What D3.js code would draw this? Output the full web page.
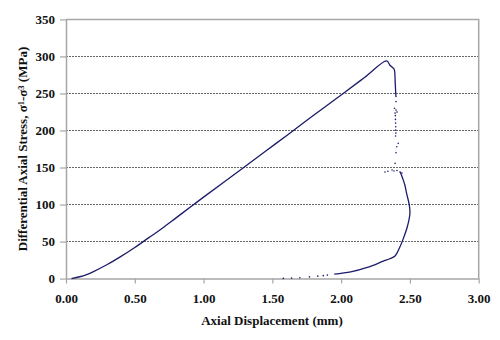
<!DOCTYPE html>
<html>
<head>
<meta charset="utf-8">
<script src="https://cdn.jsdelivr.net/npm/d3@7/dist/d3.min.js"></script>
<style>
  html, body { margin: 0; padding: 0; background: #fff; }
  svg { display: block; }
  text { font-family: "Liberation Serif", "Times New Roman", serif; font-weight: bold; fill: #111; }
</style>
</head>
<body>
<svg id="chart" width="500" height="340"></svg>
<script>
// Axis ticks
const xTicks = [0, 0.5, 1.0, 1.5, 2.0, 2.5, 3.0];
const yTicks = [0, 50, 100, 150, 200, 250, 300, 350];

// Continuous stress–displacement trace: loading up to the peak and the first drop
const loadDisp   = [0.04, 0.10, 0.15, 0.20, 0.30, 0.40, 0.50, 0.60, 0.70, 0.80, 0.914, 1.00, 1.277, 1.45, 1.61, 1.80, 2.00, 2.17, 2.331, 2.355, 2.375, 2.385, 2.39, 2.393, 2.397, 2.399];
const loadStress = [0,    2.5,  5.5,  9.5,  19,   30,   42,   55,   68,   82,   98,    110,  148,   172,  194,  220.5, 248, 271.5, 294,  288,   285,   283,   278,  265,   250,   245];

// Post-failure trace after the stress drop, curving back during unloading
const postDisp   = [2.43, 2.452, 2.465, 2.476, 2.496, 2.50, 2.481, 2.452, 2.423, 2.392, 2.35, 2.306, 2.19, 2.07, 1.95];
const postStress = [144,  133,   125,   115,   99,    88,   70,    54,    41,    30.5,  26.5, 23.5,  15,   9,    6];

// Sparse readings between the two traces
const scatterDisp   = [2.399, 2.388, 2.399, 2.406, 2.392, 2.394, 2.395, 2.396, 2.397, 2.396, 2.398, 2.396, 2.415, 2.404, 2.399, 2.392, 2.319, 2.34, 2.37, 2.384, 2.406, 2.428, 2.442];
const scatterStress = [239,   230,   227.5, 225,   223.5, 220,   215,   210,   205,   200.5, 196.5, 192.5, 182.6, 178,   170,   155.6, 143.9, 145,  146.6, 145.2, 145.9, 143.9, 142.5];

// Sparse readings at the end of unloading
const tailDisp   = [1.58, 1.64, 1.70, 1.77, 1.83, 1.87, 1.90];
const tailStress = [0.3,  0.7,  1.2,  2.3,  3.3,  4.0,  4.7];

const svg = d3.select("#chart");
const x = d3.scaleLinear().domain([0, 3]).range([66, 478.7]);
const y = d3.scaleLinear().domain([0, 350]).range([278.6, 19.4]);

const axisGray = "#a6a6a6";
const ink = "#1b1b6a";
const fontSize = "13px";

// Dotted gridlines
svg.append("g")
  .selectAll("line")
  .data(yTicks.filter(v => v > 0 && v < 350))
  .join("line")
  .attr("x1", x(0)).attr("x2", x(3))
  .attr("y1", d => y(d)).attr("y2", d => y(d))
  .attr("stroke", "#666").attr("stroke-width", 1)
  .attr("stroke-dasharray", "1.5,1.5")
  .attr("shape-rendering", "crispEdges");

// Plot frame (top and right edges)
svg.append("path")
  .attr("d", `M${x(0)},${y(350)}H${x(3)}V${y(0)}`)
  .attr("fill", "none").attr("stroke", axisGray).attr("stroke-width", 1.5);

// Axes
const xAxis = svg.append("g")
  .attr("transform", `translate(0,${y(0)})`)
  .call(d3.axisBottom(x).tickValues(xTicks).tickFormat(d3.format(".2f")).tickSize(5).tickPadding(10).tickSizeOuter(0));
const yAxis = svg.append("g")
  .attr("transform", `translate(${x(0)},0)`)
  .call(d3.axisLeft(y).tickValues(yTicks).tickSize(6).tickPadding(5).tickSizeOuter(0));

[xAxis, yAxis].forEach(g => {
  g.select(".domain").attr("stroke", axisGray).attr("stroke-width", 1.5);
  g.selectAll(".tick line").attr("stroke", axisGray).attr("stroke-width", 1.2);
  g.selectAll(".tick text")
    .attr("fill", "#111")
    .style("font-family", '"Liberation Serif", "Times New Roman", serif')
    .style("font-weight", "bold")
    .style("font-size", fontSize);
});

// Axis titles
svg.append("text")
  .attr("x", 272).attr("y", 325)
  .attr("text-anchor", "middle")
  .style("font-size", fontSize)
  .text("Axial Displacement (mm)");

const yTitle = svg.append("text")
  .attr("transform", "translate(27,149) rotate(-90)")
  .attr("text-anchor", "middle")
  .style("font-size", fontSize);
yTitle.append("tspan").text("Differential Axial Stress, σ");
yTitle.append("tspan").style("font-size", "8.5px").attr("dy", -3).text("1");
yTitle.append("tspan").attr("dy", 3).text("-σ");
yTitle.append("tspan").style("font-size", "8.5px").attr("dy", -3).text("3");
yTitle.append("tspan").attr("dy", 3).text(" (MPa)");

// Curves
const line = d3.line().x(d => x(d[0])).y(d => y(d[1])).curve(d3.curveCatmullRom.alpha(0.5));
const loadPts = d3.zip(loadDisp, loadStress);
const postPts = d3.zip(postDisp, postStress);

svg.append("path").datum(loadPts)
  .attr("d", line).attr("fill", "none").attr("stroke", ink).attr("stroke-width", 1.3);
svg.append("path").datum(postPts)
  .attr("d", line).attr("fill", "none").attr("stroke", ink).attr("stroke-width", 1.3);

// Sparse points
const dots = d3.zip(scatterDisp, scatterStress).concat(d3.zip(tailDisp, tailStress));
svg.append("g").selectAll("circle")
  .data(dots)
  .join("circle")
  .attr("cx", d => x(d[0])).attr("cy", d => y(d[1]))
  .attr("r", 0.8).attr("fill", ink);
</script>
</body>
</html>
